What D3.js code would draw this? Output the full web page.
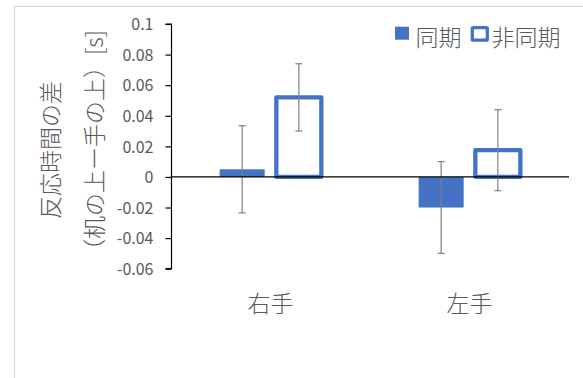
<!DOCTYPE html>
<html><head><meta charset="utf-8">
<script src="https://cdn.jsdelivr.net/npm/d3@7"></script>
<style>
html,body{margin:0;padding:0;background:#fff;}
svg{display:block;}
text{font-family:"Noto Sans CJK JP","Noto Sans",sans-serif;}
</style></head>
<body>
<script>
const categories = ["右手", "左手"];
const seriesNames = ["同期", "非同期"];
const syncValues = [0.005, -0.020];
const asyncValues = [0.052, 0.0175];
const syncErrors = [0.0285, 0.030];
const asyncErrors = [0.022, 0.0265];
const yTicks = [0.1, 0.08, 0.06, 0.04, 0.02, 0, -0.02, -0.04, -0.06];
const yTickLabels = ["0.1", "0.08", "0.06", "0.04", "0.02", "0", "-0.02", "-0.04", "-0.06"];
const yTitle1 = "反応時間の差";
const yTitle2 = "（机の上ー手の上）[s]";

const W = 583, H = 378;
const blue = "#4472c4", grey = "#595959";
const cjkSize = 23;
const svg = d3.select("body").append("svg").attr("width", W).attr("height", H);

svg.append("rect").attr("x", 14.5).attr("y", 6.5).attr("width", 700).attr("height", 500)
  .attr("fill", "#fff").attr("stroke", "#d9d9d9").attr("stroke-width", 1.3);

const y = d3.scaleLinear().domain([-0.06, 0.1]).range([268.7, 24]);
const x0 = d3.scaleBand().domain(categories).range([171, 569]).padding(0);
const bw = x0.bandwidth();
const x1 = d3.scaleBand().domain(seriesNames).range([bw/2 - 50.85, bw/2 + 50.85]).paddingInner(0.206);

const rows = categories.map((c, i) => ({
  cat: c,
  vals: [
    {s: seriesNames[0], v: syncValues[i], e: syncErrors[i]},
    {s: seriesNames[1], v: asyncValues[i], e: asyncErrors[i]}
  ]
}));

// y axis
const yAxis = d3.axisLeft(y).tickValues(yTicks).tickSize(6).tickPadding(12)
  .tickFormat((d, i) => yTickLabels[i]);
const gy = svg.append("g").attr("transform", "translate(171.5,0)").call(yAxis);
gy.select(".domain").attr("stroke", "#000").attr("stroke-width", 1.2).attr("d", `M-6,${y(0.1)}H0V${y(-0.06)}H-6`);
gy.selectAll(".tick line").attr("stroke", "#000").attr("stroke-width", 1.2);
gy.selectAll(".tick text").attr("fill", grey).attr("font-size", 16)
  .attr("font-family", '"Noto Sans CJK JP","Noto Sans",sans-serif').attr("dy", "0.36em");

// bars
const groups = svg.selectAll("g.grp").data(rows).enter().append("g")
  .attr("class", "grp").attr("transform", d => `translate(${x0(d.cat)},0)`);

groups.selectAll("rect.bar").data(d => d.vals).enter().append("rect")
  .attr("class", "bar")
  .attr("x", d => x1(d.s))
  .attr("y", d => y(Math.max(0, d.v)))
  .attr("width", x1.bandwidth())
  .attr("height", d => Math.abs(y(d.v) - y(0)))
  .attr("fill", d => d.s === seriesNames[0] ? blue : "#fff")
  .attr("stroke", d => d.s === seriesNames[0] ? "none" : blue)
  .attr("stroke-width", 4.3)
  .attr("stroke-linejoin", "round");

// error bars
const eb = groups.selectAll("g.err").data(d => d.vals).enter().append("g").attr("class", "err")
  .attr("stroke", "#808080").attr("stroke-width", 1.2);
eb.append("line")
  .attr("x1", d => x1(d.s) + x1.bandwidth()/2).attr("x2", d => x1(d.s) + x1.bandwidth()/2)
  .attr("y1", d => y(d.v + d.e)).attr("y2", d => y(d.v - d.e));
eb.append("line")
  .attr("x1", d => x1(d.s) + x1.bandwidth()/2 - 3.5).attr("x2", d => x1(d.s) + x1.bandwidth()/2 + 3.5)
  .attr("y1", d => y(d.v + d.e)).attr("y2", d => y(d.v + d.e));
eb.append("line")
  .attr("x1", d => x1(d.s) + x1.bandwidth()/2 - 3.5).attr("x2", d => x1(d.s) + x1.bandwidth()/2 + 3.5)
  .attr("y1", d => y(d.v - d.e)).attr("y2", d => y(d.v - d.e));

// zero line
svg.append("line").attr("x1", 171).attr("x2", 569).attr("y1", y(0)).attr("y2", y(0))
  .attr("stroke", "#000").attr("stroke-width", 1.2);

// category labels
svg.selectAll("text.cat").data(categories).enter().append("text").attr("class", "cat")
  .attr("x", d => x0(d) + bw/2).attr("y", 312).attr("text-anchor", "middle")
  .attr("font-size", cjkSize).attr("font-weight", 300).attr("fill", grey).text(d => d);

// y title
svg.append("text").attr("transform", "translate(49,150) rotate(-90)")
  .attr("text-anchor", "middle").attr("dominant-baseline", "central")
  .attr("font-size", cjkSize).attr("font-weight", 300).attr("fill", grey).text(yTitle1);
svg.append("text").attr("transform", "translate(92.5,146) rotate(-90)")
  .attr("text-anchor", "middle").attr("dominant-baseline", "central")
  .attr("font-size", cjkSize).attr("font-weight", 300).attr("fill", grey).text(yTitle2);

// legend
const lg = svg.append("g");
lg.append("rect").attr("x", 395).attr("y", 26.7).attr("width", 14).attr("height", 13).attr("fill", blue);
lg.append("text").attr("x", 415.5).attr("y", 46).attr("font-size", cjkSize).attr("font-weight", 300)
  .attr("fill", grey).text(seriesNames[0]);
lg.append("rect").attr("x", 472.3).attr("y", 27.6).attr("width", 15).attr("height", 12.6)
  .attr("fill", "#fff").attr("stroke", blue).attr("stroke-width", 3.3).attr("rx", 1);
lg.append("text").attr("x", 491.5).attr("y", 46).attr("font-size", cjkSize).attr("font-weight", 300)
  .attr("fill", grey).text(seriesNames[1]);
</script>
</body></html>
